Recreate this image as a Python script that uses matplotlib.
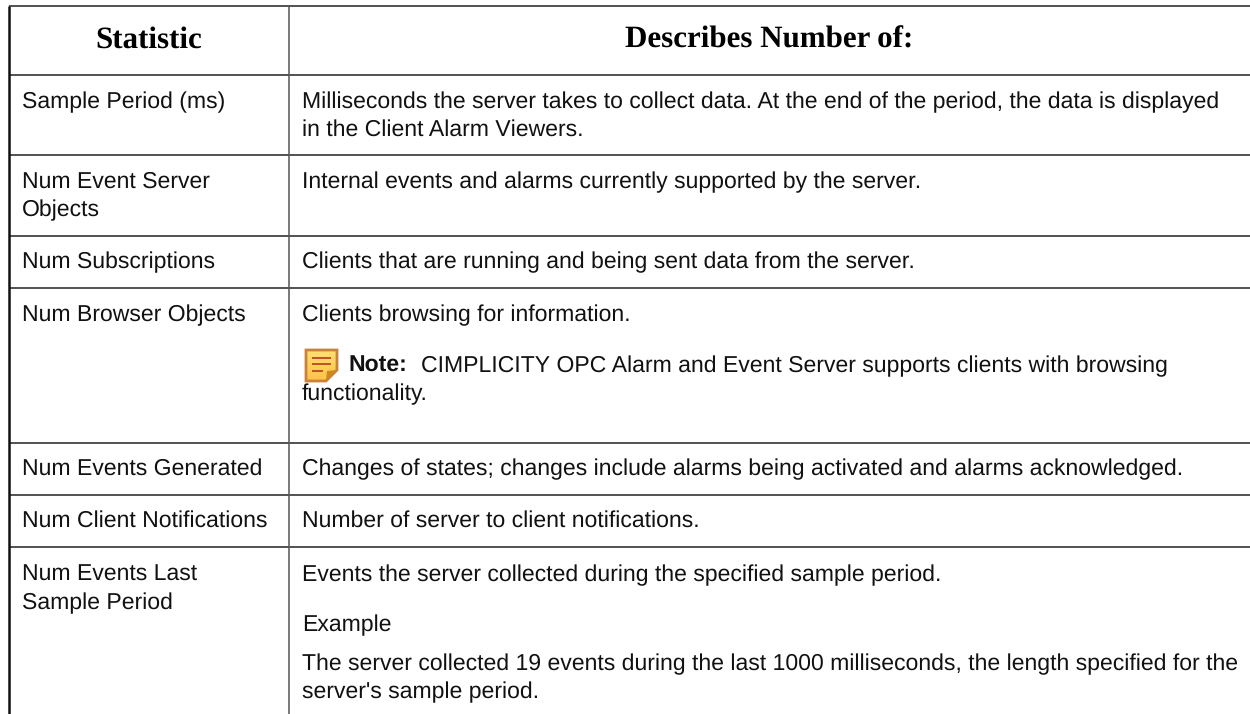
import matplotlib
matplotlib.use("Agg")
import matplotlib.pyplot as plt
import numpy as np
from matplotlib.patches import Polygon

plt.rcParams["text.hinting"] = "no_hinting"
plt.rcParams["text.hinting_factor"] = 1

W, H = 1250, 714
headers = ["Statistic", "Describes Number of:"]
stat_labels = [("Sample Period (ms)", 108), ("Num Event Server", 188), ("Objects", 216),
               ("Num Subscriptions", 268), ("Num Browser Objects", 321), ("Num Events Generated", 475),
               ("Num Client Notifications", 527), ("Num Events Last", 581), ("Sample Period", 609)]
desc_labels = [("Milliseconds the server takes to collect data. At the end of the period, the data is displayed", 108),
               ("in the Client Alarm Viewers.", 136),
               ("Internal events and alarms currently supported by the server.", 188),
               ("Clients that are running and being sent data from the server.", 268),
               ("Clients browsing for information.", 321),
               ("functionality.", 400),
               ("Changes of states; changes include alarms being activated and alarms acknowledged.", 475),
               ("Number of server to client notifications.", 527),
               ("Events the server collected during the specified sample period.", 581),
               ("Example", 631),
               ("The server collected 19 events during the last 1000 milliseconds, the length specified for the", 670),
               ("server's sample period.", 698)]
note_label = "Note:"
note_text = "CIMPLICITY OPC Alarm and Event Server supports clients with browsing"
row_lines = [6, 75, 155, 236, 288, 443, 495, 547]

fig = plt.figure(figsize=(W / 100, H / 100), dpi=100)
ax = fig.add_axes([0, 0, 1, 1])
ax.set_xlim(0, W)
ax.set_ylim(H, 0)
ax.axis("off")

c = "#333333"
for y in row_lines:
    ax.plot([9, 1250], [y, y], color=c, lw=1.2, solid_capstyle="butt")
ax.plot([9, 9], [5.5, 714], color="#111111", lw=1.8, solid_capstyle="butt")
ax.plot([289, 289], [6, 714], color="#555555", lw=1.1, solid_capstyle="butt")

sans = "Liberation Sans"
fs = 16.4
ax.text(149, 48, headers[0], family="Liberation Serif", weight="bold", fontsize=22, ha="center", va="baseline", color="#000")
ax.text(769, 48, headers[1], family="Liberation Serif", weight="bold", fontsize=22, ha="center", va="baseline", color="#000")
for t, y in stat_labels:
    ax.text(22, y, t, family=sans, fontsize=fs, ha="left", va="baseline", color="#111")
for t, y in desc_labels:
    ax.text(302, y, t, family=sans, fontsize=fs, ha="left", va="baseline", color="#111")
ax.text(348, 372, note_label, family=sans, weight="bold", fontsize=fs, ha="left", va="baseline", color="#111")
ax.text(421, 372, note_text, family=sans, fontsize=fs, ha="left", va="baseline", color="#111")

# note icon
outline = Polygon([(306, 350), (337, 350), (337, 370), (326, 381), (306, 381)], closed=True,
                  facecolor="none", edgecolor="#C8823C", lw=2, zorder=4)
grad = np.linspace(0, 1, 32)[:, None, None] * np.array([[[0.0, -0.12, -0.18]]]) + np.array([[[1.0, 0.88, 0.45]]])
im = ax.imshow(grad, extent=(306, 337, 381, 350), aspect="auto", zorder=3)
im.set_clip_path(Polygon(outline.get_xy(), closed=True, transform=ax.transData))
ax.set_xlim(0, W)
ax.set_ylim(H, 0)
ax.add_patch(outline)
ax.add_patch(Polygon([(326, 381), (327, 371), (337, 370)], closed=True, facecolor="#C98A1E", edgecolor="none", zorder=5))
for y0, x1 in [(358, 331), (364, 331), (371, 323)]:
    ax.plot([312, x1], [y0, y0], color="#C0502A", lw=1.4, zorder=5, solid_capstyle="butt")

fig.savefig("out.png", dpi=100, facecolor="white")
